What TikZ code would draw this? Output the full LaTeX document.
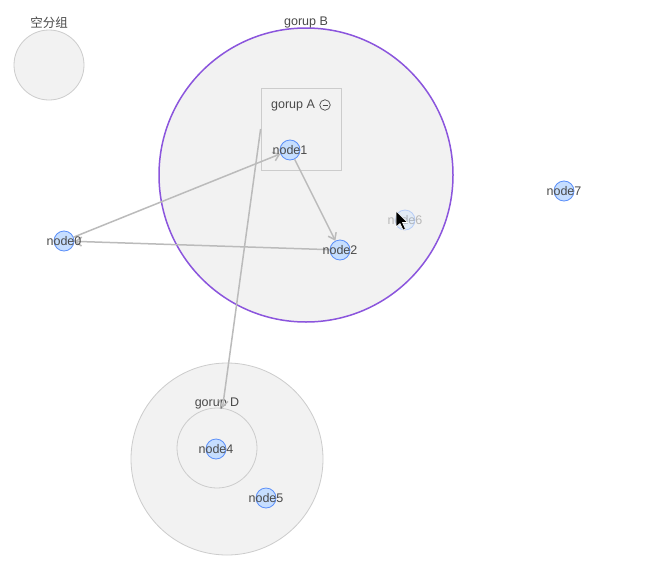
\documentclass[tikz,border=0pt]{standalone}
\usepackage{fontspec}
\setmainfont{Liberation Sans}
\newfontfamily\cjk{Noto Sans CJK SC}
\usetikzlibrary{arrows.meta}
\definecolor{grpfill}{HTML}{F2F2F2}
\definecolor{grpline}{HTML}{CCCCCC}
\definecolor{purp}{HTML}{8B55DD}
\definecolor{nfill}{HTML}{C6DEFF}
\definecolor{nline}{HTML}{5B8FF9}
\definecolor{edgec}{HTML}{BBBBBB}
\definecolor{txt}{HTML}{4A4A4A}
\tikzset{
  grp/.style={circle,fill=grpfill,draw=grpline,line width=0.8pt,inner sep=0pt},
  nd/.style={circle,fill=nfill,draw=nline,line width=0.8pt,minimum size=20pt,inner sep=0pt},
  lbl/.style={text=txt,font=\fontsize{12.5}{13}\selectfont,inner sep=0pt},
  edg/.style={draw=edgec,line width=1.5pt,-{Straight Barb[length=6pt,width=9pt,line width=1.5pt]}},
}
\begin{document}
\begin{tikzpicture}[x=1pt,y=-1pt]
\useasboundingbox[fill=white] (0,0) rectangle (658,570);
% empty group
\node[grp,minimum size=70pt] (g0) at (49,65) {};
\node[lbl] (g0l) at (49,23) {\cjk 空分组};
% group B
\node[grp,draw=purp,line width=1.5pt,minimum size=294pt] (gB) at (306,175) {};
\node[lbl] (gBl) at (306,22) {gorup B};
% group A
\node[draw=grpline,fill=grpfill,line width=0.8pt,minimum width=80pt,minimum height=82pt,inner sep=0pt] (gA) at (301,129) {};
\node[lbl] (gAl) at (293,105) {gorup A};
\node[circle,draw=txt,line width=0.7pt,minimum size=10.5pt,inner sep=0pt] (gAc) at (325,105) {};
\draw[txt,line width=0.8pt] ([xshift=-2.5pt]gAc.center) -- ([xshift=2.5pt]gAc.center);
% group D
\node[grp,minimum size=192pt] (gD) at (227,459) {};
\node[grp,minimum size=80pt] (gDin) at (217,448) {};
\node[lbl] (gDl) at (217,403) {gorup D};
% nodes
\node[nd] (n0) at (64,241) {};
\node[nd] (n1) at (290,150) {};
\node[nd] (n2) at (340,250) {};
\node[nd] (n4) at (216,449) {};
\node[nd] (n5) at (266,498) {};
\node[nd,opacity=0.35] (n6) at (405,220) {};
\node[nd] (n7) at (564,191) {};
% edges
\draw[edg] (n0) -- (n1);
\draw[edg] (n1) -- (n2);
\draw[edg] (n2) -- (n0);
\draw[edg] (gA.west) -- (gDin);
% labels
\node[lbl] (n0l) at (n0) {node0};
\node[lbl] (n1l) at (n1) {node1};
\node[lbl] (n2l) at (n2) {node2};
\node[lbl] (n4l) at (n4) {node4};
\node[lbl] (n5l) at (n5) {node5};
\node[lbl,opacity=0.35] (n6l) at (n6) {node6};
\node[lbl] (n7l) at (n7) {node7};
% cursor
\filldraw[fill=black,draw=white,line width=0.6pt] (396,211) -- (396,227) -- (400,223.5) -- (403,230) -- (405.5,229) -- (402.5,222.5) -- (407.5,222.5) -- cycle;
\end{tikzpicture}
\end{document}
